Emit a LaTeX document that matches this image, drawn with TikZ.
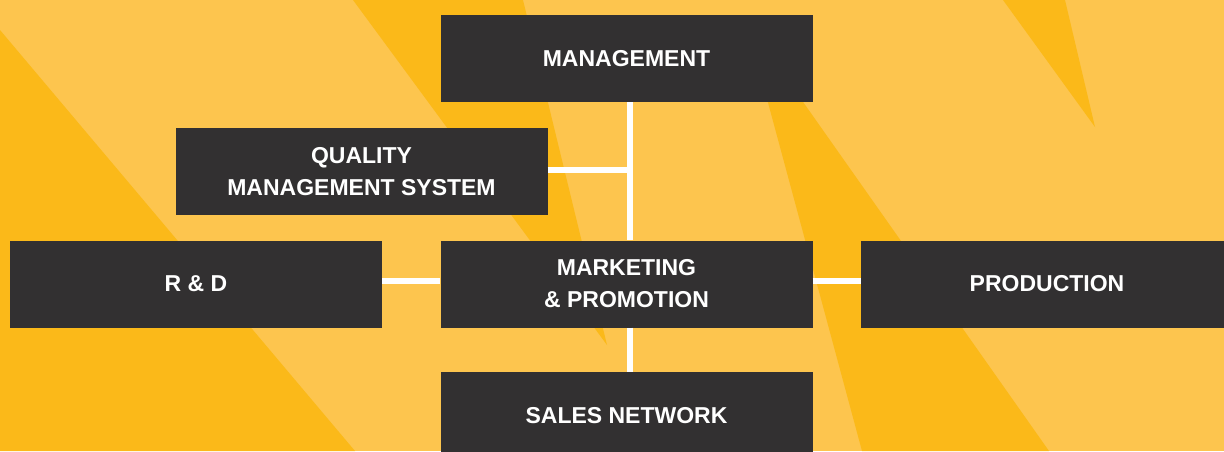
\documentclass[tikz,border=0pt]{standalone}
\usepackage{fontspec}
\setmainfont{Liberation Sans}
\usepackage{tikz}
\usetikzlibrary{positioning}

\definecolor{sunlight}{RGB}{253,197,78}
\definecolor{sundark}{RGB}{251,185,25}
\definecolor{boxgray}{RGB}{50,48,49}

\begin{document}
\begin{tikzpicture}[x=1pt, y=-1pt,
    unit/.style={fill=boxgray, text=white, minimum width=372, minimum height=87,
      inner sep=0pt, align=center, font=\fontsize{23}{32}\selectfont\bfseries},
    link/.style={white, line width=6.5pt}]
    \useasboundingbox (0,0) rectangle (1224,451);
    \clip (0,0) rectangle (1224,451);

    % background
    \fill[sunlight] (0,0) rectangle (1224,451);
    \fill[sundark] (0,30) -- (355,451) -- (0,451) -- cycle;
    \fill[sundark] (353,0) -- (523,0) -- (607,345) -- cycle;
    \fill[sundark] (746,21) -- (862,451) -- (1049,451) -- cycle;
    \fill[sundark] (1003,0) -- (1065,0) -- (1095,127) -- cycle;

    % units
    \node[unit] (mgmt) at (626.5,58.5) {MANAGEMENT};
    \node[unit] (qms) at (361.5,171.5) {QUALITY\\MANAGEMENT SYSTEM};
    \node[unit] (rnd) at (196,284) {R \& D};
    \node[unit] (mkt) at (626.5,284) {MARKETING\\\& PROMOTION};
    \node[unit] (prod) at (1047,284) {PRODUCTION};
    \node[unit] (sales) at (626.5,415.5) {SALES NETWORK};

    % links
    \draw[link] ([xshift=3.5]mgmt.south) -- ([xshift=3.5]mkt.north);
    \draw[link] ([xshift=3.5]mkt.south) -- ([xshift=3.5]sales.north);
    \draw[link] ([yshift=1.5]qms.east) -- ([yshift=1.5,xshift=6.75]qms.east -| mgmt.south);
    \draw[link] ([yshift=3]rnd.east) -- ([yshift=3]mkt.west);
    \draw[link] ([yshift=3]mkt.east) -- ([yshift=3]prod.west);
\end{tikzpicture}
\end{document}
